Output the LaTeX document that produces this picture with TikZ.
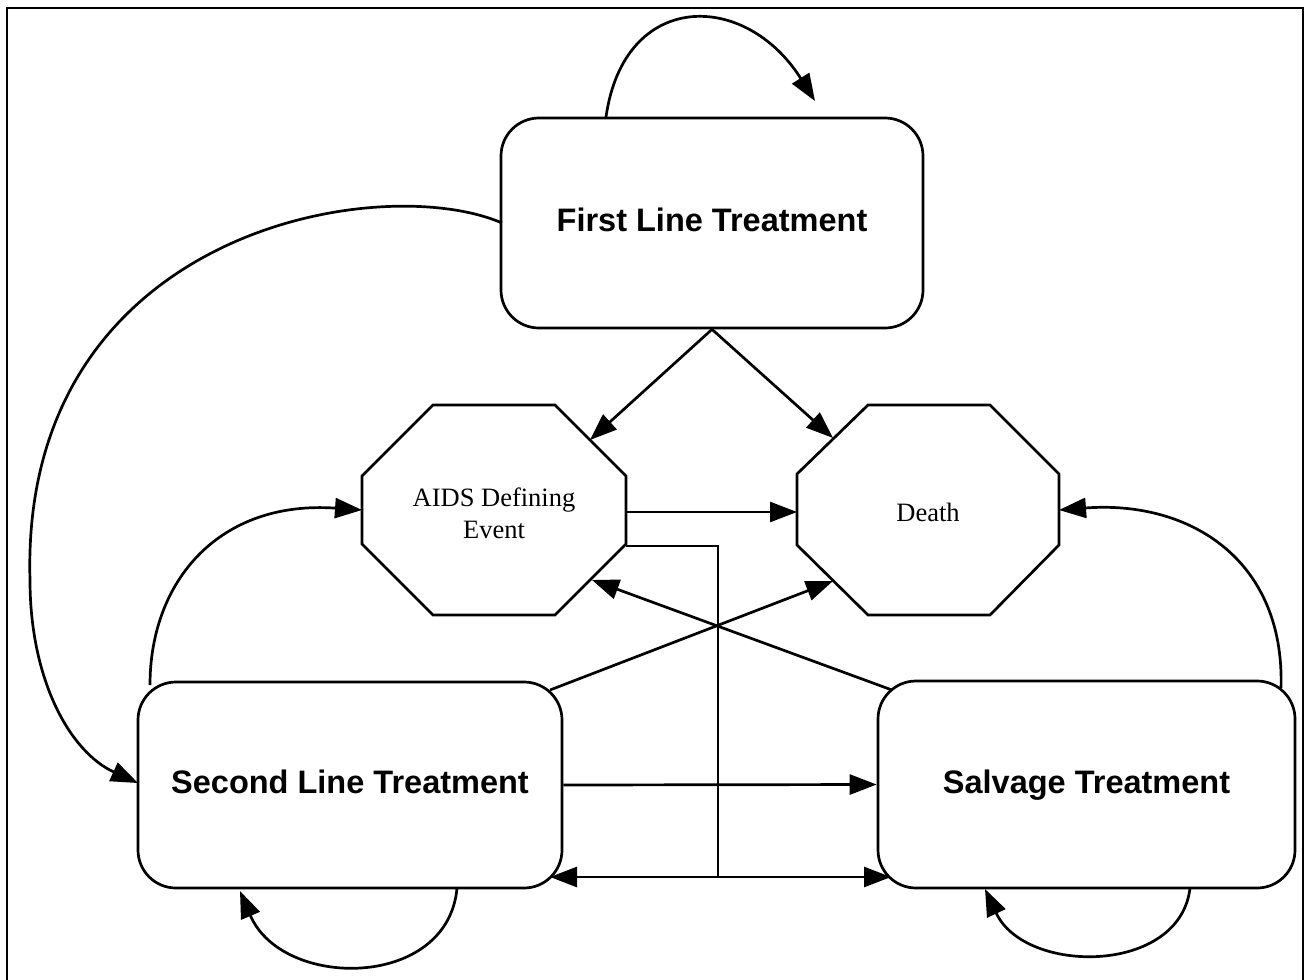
\documentclass[tikz,border=0pt]{standalone}
\usepackage{fontspec}
\setmainfont{Liberation Serif}
\setsansfont{Liberation Sans}
\usetikzlibrary{arrows.meta}
\begin{document}
\begin{tikzpicture}[x=1pt,y=1pt,line width=2.7pt,
  arr/.style={-{Triangle[length=27pt,width=20pt]}},
  tbox/.style={draw,rounded corners=38pt,font=\sffamily\bfseries\fontsize{32.5}{38}\selectfont,
    text height=24pt,text depth=7pt,inner sep=0pt},
  otext/.style={align=center,font=\fontsize{26.5}{32}\selectfont,inner sep=0pt},
  octo/.style={draw,line join=miter}]
\useasboundingbox (0,0) rectangle (1305,-979);
% frame
\draw (7,-990) -- (7,-8) -- (1303,-8) -- (1303,-990);
% boxes
\node[tbox,minimum width=422pt,minimum height=210pt] (fl) at (712,-223) {First Line Treatment};
\node[tbox,minimum width=424pt,minimum height=206pt] (sl) at (350,-785) {Second Line Treatment};
\node[tbox,minimum width=417pt,minimum height=207pt] (sv) at (1086.5,-784.5) {Salvage Treatment};
% octagons
\draw[octo] (433,-405) -- (555,-405) -- (626,-476) -- (626,-544) -- (555,-615) -- (433,-615) -- (362,-544) -- (362,-476) -- cycle;
\node[otext] (aids) at (494,-513) {AIDS Defining\\Event};
\draw[octo] (868,-405) -- (990,-405) -- (1059,-474) -- (1059,-545) -- (990,-615) -- (868,-615) -- (797,-545) -- (797,-474) -- cycle;
\node[otext] (death) at (928,-512) {Death};
% border coordinates
\coordinate (aidsNE) at (590,-440);
\coordinate (aidsE1) at (626,-512);
\coordinate (aidsE2) at (626,-546);
\coordinate (aidsSE) at (592,-580);
\coordinate (aidsW) at (362,-510);
\coordinate (deathNW) at (833,-438);
\coordinate (deathW) at (797,-512);
\coordinate (deathSW) at (833,-581);
\coordinate (deathE) at (1059,-510);
\coordinate (j1) at (718,-546);
\coordinate (j2) at (718,-877);
\coordinate (slB) at (550,-877);
\coordinate (svB) at (891,-877);
\coordinate (slNE) at (550,-690);
\coordinate (svNW) at (892,-690);
\coordinate (slN) at (150,-685);
\coordinate (svNE) at (1281,-688);
\coordinate (flW) at (502,-223);
\coordinate (slW) at (138,-783);
\coordinate (flN1) at (606,-117);
\coordinate (flN2) at (815,-101);
\coordinate (slS1) at (457,-888);
\coordinate (slS2) at (240,-891);
\coordinate (svS1) at (1190,-888);
\coordinate (svS2) at (985,-889);
% connectors
\draw[arr] (fl.south) -- (aidsNE);
\draw[arr] (fl.south) -- (deathNW);
\draw[arr] (aidsE1) -- (deathW);
\draw (aidsE2) -- (j1) -- (j2);
\draw[arr] (j2) -- (slB);
\draw[arr] (j2) -- (svB);
\draw[arr] (sl.east) -- (sv.west);
\draw[arr] (slNE) -- (deathSW);
\draw[arr] (svNW) -- (aidsSE);
\draw[arr] (slN) .. controls (150,-580) and (220,-500) .. (aidsW);
\draw[arr] (svNE) .. controls (1285,-560) and (1190,-500) .. (deathE);
\draw[arr] (flW) .. controls (380,-170) and (20,-230) .. (30,-580) .. controls (30,-680) and (70,-752) .. (slW);
\draw[arr] (flN1) .. controls (624,10) and (745,10) .. (flN2);
\draw[arr] (slS1) .. controls (448,-990) and (282,-990) .. (slS2);
\draw[arr] (svS1) .. controls (1180,-975) and (1025,-975) .. (svS2);
\end{tikzpicture}
\end{document}
